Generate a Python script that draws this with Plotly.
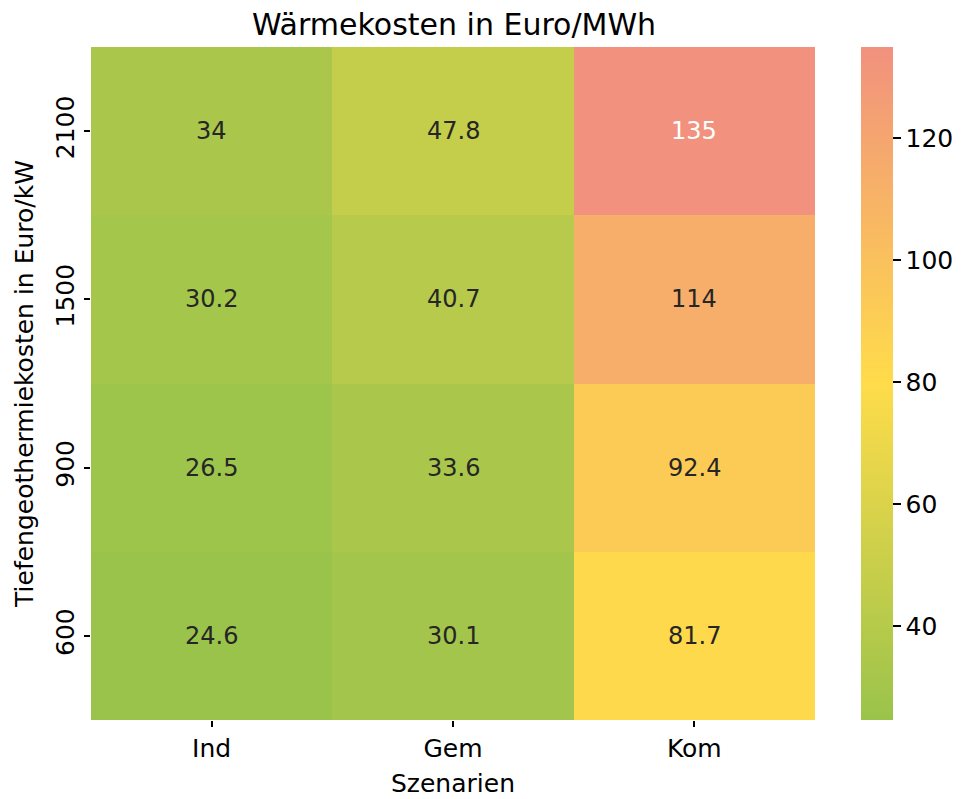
import plotly.graph_objects as go

scenarios = ["Ind", "Gem", "Kom"]
drill_costs = ["600", "900", "1500", "2100"]
# rows correspond to drill_costs (bottom to top)
heat_costs = [
    [24.6, 30.1, 81.7],
    [26.5, 33.6, 92.4],
    [30.2, 40.7, 114.0],
    [34.0, 47.8, 135.0],
]
cbar_ticks = [40, 60, 80, 100, 120]

colorscale = [
    [0.0, "#9AC34B"],
    [0.5, "#FFDC4A"],
    [1.0, "#F1917E"],
]

FONT = "DejaVu Sans"
zmin = min(min(r) for r in heat_costs)
zmax = max(max(r) for r in heat_costs)

W, H = 958, 791
L, R, T, B = 83, 149, 39, 79
PW = W - L - R

fig = go.Figure(go.Heatmap(
    x=scenarios, y=drill_costs, z=heat_costs,
    colorscale=colorscale, zmin=zmin, zmax=zmax,
    xgap=0, ygap=0, hoverinfo="skip",
    colorbar=dict(
        x=(863 - 8 - L) / PW, xanchor="left", y=0.5, yanchor="middle", ypad=0, xpad=0,
        len=1.0, lenmode="fraction", thickness=32, outlinewidth=0,
        tickvals=cbar_ticks, ticks="outside", ticklen=8, tickwidth=1.5,
        tickcolor="black", tickfont=dict(family=FONT, size=25, color="black"),
    ),
))

annotations = []
for i, yv in enumerate(drill_costs):
    for j, xv in enumerate(scenarios):
        v = heat_costs[i][j]
        txt = f"{v:.3g}"
        frac = (v - zmin) / (zmax - zmin)
        col = "white" if frac > 0.95 else "#262626"
        annotations.append(dict(x=j, y=i, xref="x", yref="y", text=txt, showarrow=False,
                                font=dict(family=FONT, size=24, color=col)))

fig.update_layout(
    width=W, height=H,
    margin=dict(l=L, r=R, t=T, b=B),
    paper_bgcolor="white", plot_bgcolor="white",
    font=dict(family=FONT, color="black"),
    title=dict(text="Wärmekosten in Euro/MWh", x=(454 - 8) / W, xanchor="center",
               y=1 - 16 / H, yanchor="middle", yref="container",
               font=dict(family=FONT, size=30, color="black")),
    annotations=annotations,
    xaxis=dict(type="category", range=[-0.5, len(scenarios) - 0.5], automargin=False,
               title=dict(text="Szenarien", font=dict(family=FONT, size=25), standoff=12),
               ticks="outside", ticklen=6, tickwidth=1.5, tickcolor="black",
               tickfont=dict(family=FONT, size=25), showgrid=False, zeroline=False,
               showline=False),
    yaxis=dict(type="category", range=[-0.5, len(drill_costs) - 0.5], automargin=False,
               title=dict(text="Tiefengeothermiekosten in Euro/kW", font=dict(family=FONT, size=25), standoff=10),
               ticks="outside", ticklen=6, tickwidth=1.5, tickcolor="black",
               tickangle=-90,
               tickfont=dict(family=FONT, size=25), showgrid=False, zeroline=False,
               showline=False),
)

fig.write_html("out.html")
